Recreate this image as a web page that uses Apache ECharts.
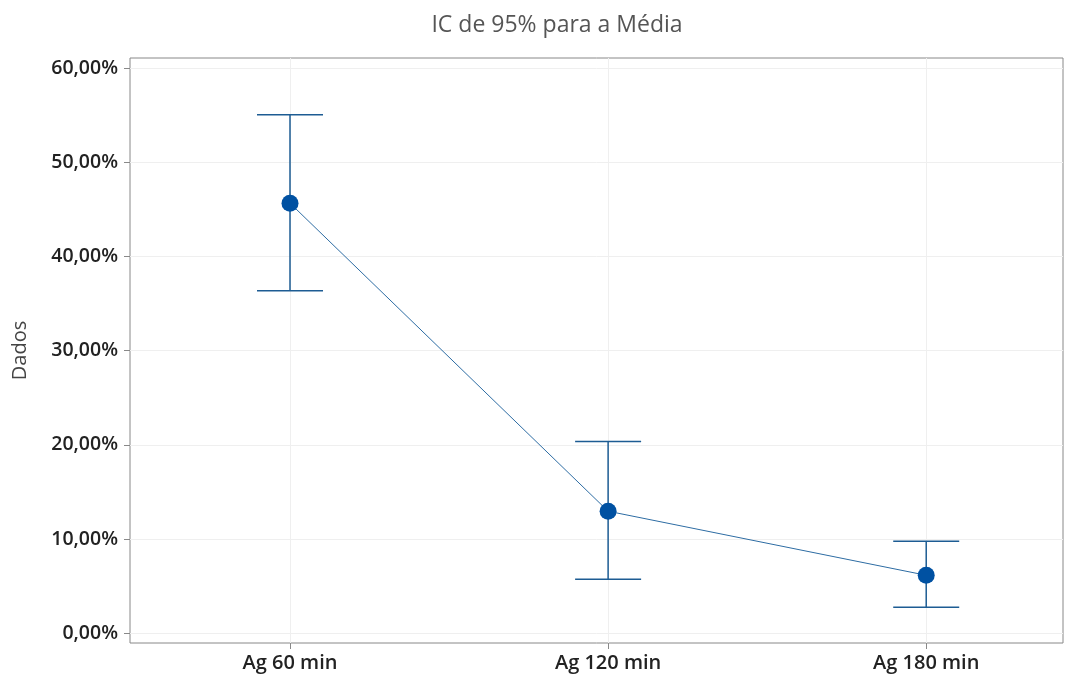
<!DOCTYPE html>
<html><head><meta charset="utf-8">
<script src="https://cdn.jsdelivr.net/npm/echarts@6/dist/echarts.min.js"></script>
<style>html,body{margin:0;padding:0;background:#fff}#c{width:1075px;height:678px}</style>
</head><body><div id="c"></div>
<script>
const categories = ['Ag 60 min', 'Ag 120 min', 'Ag 180 min'];
const means = [45.66, 12.96, 6.16];
const lower = [36.35, 5.73, 2.76];
const upper = [55.05, 20.35, 9.77];
const yTicks = [0, 10, 20, 30, 40, 50, 60];

const chart = echarts.init(document.getElementById('c'));
const font = '"Open Sans", "Noto Sans", sans-serif';
const lineColor = '#1d5c93';
chart.setOption({
  animation: false,
  title: {
    text: 'IC de 95% para a Média', left: 552, top: 9, textAlign: 'center',
    textStyle: { fontFamily: font, fontSize: 23, fontWeight: 'normal', color: '#555' }
  },
  grid: { left: 130, right: 12, top: 58, bottom: 35, show: true, borderColor: '#888', borderWidth: 1 },
  xAxis: {
    type: 'value', min: -0.503, max: 2.43,
    axisLine: { show: false, onZero: false },
    axisTick: { show: true, customValues: [0, 1, 2], length: 6, lineStyle: { color: '#888' } },
    splitLine: { show: true, customValues: [0, 1, 2], lineStyle: { color: '#efefef' } },
    axisLabel: {
      customValues: [0, 1, 2], formatter: v => categories[Math.round(v)],
      fontFamily: font, fontSize: 20, fontWeight: 600, color: '#222', margin: 10
    }
  },
  yAxis: {
    type: 'value', min: -1.03, max: 61.07,
    name: 'Dados', nameLocation: 'middle', nameGap: 100, nameRotate: 90,
    nameTextStyle: { fontFamily: font, fontSize: 20, color: '#444' },
    axisLine: { show: false, onZero: false },
    axisTick: { show: true, customValues: yTicks, length: 6, lineStyle: { color: '#888' } },
    splitLine: { show: true, customValues: yTicks, lineStyle: { color: '#efefef' } },
    axisLabel: {
      customValues: yTicks, formatter: v => v.toFixed(2).replace('.', ',') + '%',
      fontFamily: font, fontSize: 19.5, fontWeight: 600, color: '#222', margin: 12
    }
  },
  series: [
    {
      type: 'custom',
      data: categories.map((c, i) => [i, lower[i], upper[i]]),
      renderItem: (params, api) => {
        const x = api.value(0);
        const lo = api.coord([x, api.value(1)]);
        const hi = api.coord([x, api.value(2)]);
        const hw = 33;
        const st = { stroke: lineColor, lineWidth: 1.5 };
        return { type: 'group', children: [
          { type: 'line', shape: { x1: lo[0], y1: lo[1], x2: hi[0], y2: hi[1] }, style: st },
          { type: 'line', shape: { x1: hi[0] - hw, y1: hi[1], x2: hi[0] + hw, y2: hi[1] }, style: st },
          { type: 'line', shape: { x1: lo[0] - hw, y1: lo[1], x2: lo[0] + hw, y2: lo[1] }, style: st }
        ]};
      },
      z: 2
    },
    {
      type: 'line',
      data: means.map((m, i) => [i, m]),
      symbol: 'circle', symbolSize: 17,
      lineStyle: { color: '#2d6ca3', width: 1 },
      itemStyle: { color: '#0051a2' },
      z: 3
    }
  ]
});
</script></body></html>
